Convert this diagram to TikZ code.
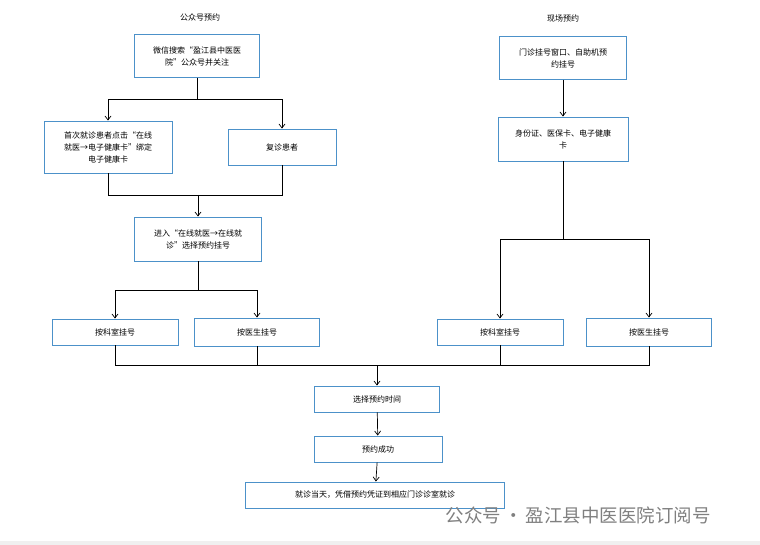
\documentclass[tikz,border=0pt]{standalone}
\usepackage{fontspec}
\setmainfont{Noto Sans CJK SC}
\usetikzlibrary{arrows.meta}
\tikzset{
  box/.style={draw=blue!45!cyan!70!black!70,line width=0.9pt,align=center,inner sep=2pt,font=\fontsize{8}{12}\selectfont},
  flow/.style={->,>={Straight Barb[length=4pt,width=6pt]},line width=0.7pt},
  link/.style={line width=0.7pt},
}
\begin{document}
\begin{tikzpicture}[x=1pt,y=-1pt]
  \useasboundingbox (0,0) rectangle (760,545);
  \fill[black!6] (0,541) rectangle (760,545);
  \node[font=\fontsize{8}{10}\selectfont] (title1) at (200,17) {公众号预约};
  \node[font=\fontsize{8}{10}\selectfont] (title2) at (563,18) {现场预约};
  %%% left branch
  \node[box,minimum width=125pt,minimum height=43pt,text width=120pt] (search) at (197,56) {微信搜索“盈江县中医医\\院”公众号并关注};
  \node[box,minimum width=127pt,minimum height=52pt,text width=124pt] (first) at (108,147) {首次就诊患者点击“在线\\就医→电子健康卡”绑定\\电子健康卡};
  \node[box,minimum width=108pt,minimum height=36pt] (again) at (282,147) {复诊患者};
  \node[box,minimum width=127pt,minimum height=44pt,text width=122pt] (online) at (198,239) {进入“在线就医→在线就\\诊”选择预约挂号};
  \node[box,minimum width=126pt,minimum height=26pt] (deptL) at (115,332) {按科室挂号};
  \node[box,minimum width=125pt,minimum height=28pt] (docL) at (257,332) {按医生挂号};
  %%% right branch
  \node[box,minimum width=127pt,minimum height=43pt,text width=122pt] (window) at (563,58) {门诊挂号窗口、自助机预\\约挂号};
  \node[box,minimum width=129pt,minimum height=44pt,text width=126pt] (card) at (563,139) {身份证、医保卡、电子健康\\卡};
  \node[box,minimum width=126pt,minimum height=26pt] (deptR) at (500,332) {按科室挂号};
  \node[box,minimum width=125pt,minimum height=28pt] (docR) at (649,332) {按医生挂号};
  %%% common part
  \node[box,minimum width=125pt,minimum height=26pt] (time) at (377,399) {选择预约时间};
  \node[box,minimum width=128pt,minimum height=26pt] (done) at (378,449) {预约成功};
  \node[box,minimum width=259pt,minimum height=26pt] (visit) at (375,495) {就诊当天，凭借预约凭证到相应门诊诊室就诊};
  \node[text=black!50,font=\fontsize{18.5}{20}\selectfont,anchor=west] (mark) at (442,515) {公众号\,·\,盈江县中医医院订阅号};
  %%% connectors
  \coordinate (splitA) at (197,99);
  \coordinate (joinB) at (198,195);
  \coordinate (splitD) at (198,290);
  \coordinate (splitR) at (563,239);
  \coordinate (bus) at (377,365);
  \draw[link] (search) -- (splitA);
  \draw[flow] (splitA) -| (first);
  \draw[flow] (splitA) -| (again);
  \draw[link] (first.south) |- (joinB);
  \draw[link] (again.south) |- (joinB);
  \draw[flow] (joinB) -- (online);
  \draw[link] (online) -- (splitD);
  \draw[flow] (splitD) -| (deptL);
  \draw[flow] (splitD) -| (docL);
  \draw[flow] (window) -- (card);
  \draw[link] (card) -- (splitR);
  \draw[flow] (splitR) -| (deptR);
  \draw[flow] (splitR) -| (docR);
  \foreach \n in {deptL,docL,deptR,docR}
    \draw[link] (\n.south) |- (bus);
  \draw[flow] (bus) -- (time);
  \draw[flow] (time) -- (done);
  \draw[flow] (done) -- (visit);
\end{tikzpicture}
\end{document}
